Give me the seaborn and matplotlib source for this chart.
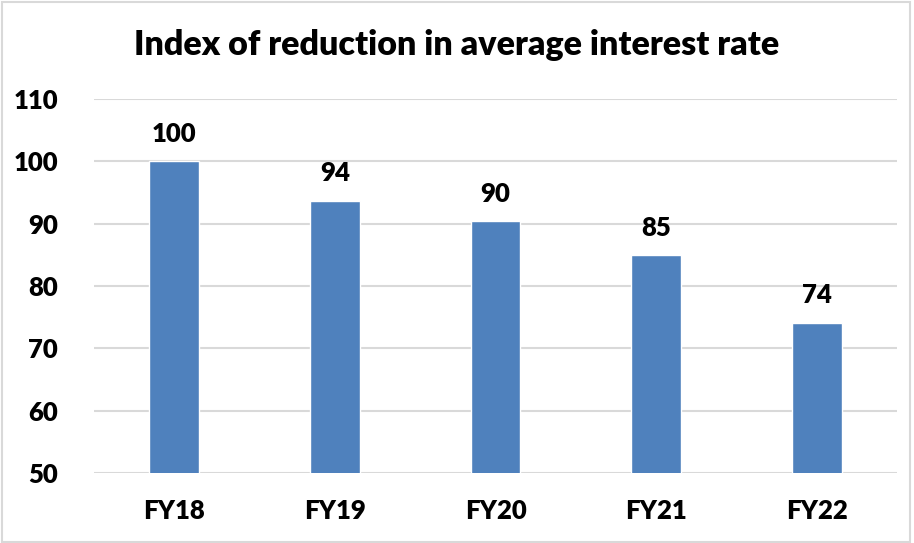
import matplotlib
matplotlib.use("Agg")
import matplotlib.pyplot as plt
import seaborn as sns
import pandas as pd
from matplotlib.patches import Rectangle

categories = ["FY18", "FY19", "FY20", "FY21", "FY22"]
values = [100, 93.7, 90.4, 84.9, 74.1]
labels = ["100", "94", "90", "85", "74"]
title = "Index of reduction in average interest rate"
yticks = [50, 60, 70, 80, 90, 100, 110]

sns.set_theme(style="white")
plt.rcParams["font.family"] = ["Lato", "DejaVu Sans"]

df = pd.DataFrame({"cat": categories, "val": values})

fig = plt.figure(figsize=(9.14, 5.43), dpi=100)
ax = fig.add_axes([94/914, 1 - 473/543, (897-94)/914, (473-99)/543])

sns.barplot(data=df, x="cat", y="val", color="#4F81BD", saturation=1,
            width=0.31, ax=ax, zorder=3)
ax.set_ylim(50, 110)
ax.set_yticks(yticks)
ax.set_xlim(-0.5, 4.5)
ax.grid(axis="y", color="#D9D9D9", linewidth=1.5, zorder=0)
ax.set_axisbelow(True)
for s in ax.spines.values():
    s.set_visible(False)
ax.set_xlabel("")
ax.set_ylabel("")
ax.tick_params(axis="y", length=0, pad=26, labelsize=18.5)
ax.tick_params(axis="x", length=0, pad=19, labelsize=18.5)
for t in ax.get_xticklabels() + ax.get_yticklabels():
    t.set_fontweight("heavy")
    t.set_color("black")

for i, (v, lab) in enumerate(zip(values, labels)):
    ax.annotate(lab, (i, v), xytext=(0, 14), textcoords="offset points",
                ha="center", va="baseline", fontsize=18.5, fontweight="heavy",
                color="black")

fig.text(0.5, 1 - 45/543, title, ha="center", va="center", fontsize=24.5,
         fontweight="heavy", color="black")

fig.patches.append(Rectangle((0.002, 0.002), 0.994, 0.994, transform=fig.transFigure,
                             fill=False, edgecolor="#D9D9D9", linewidth=1.5))

fig.savefig("out.png", dpi=100)
